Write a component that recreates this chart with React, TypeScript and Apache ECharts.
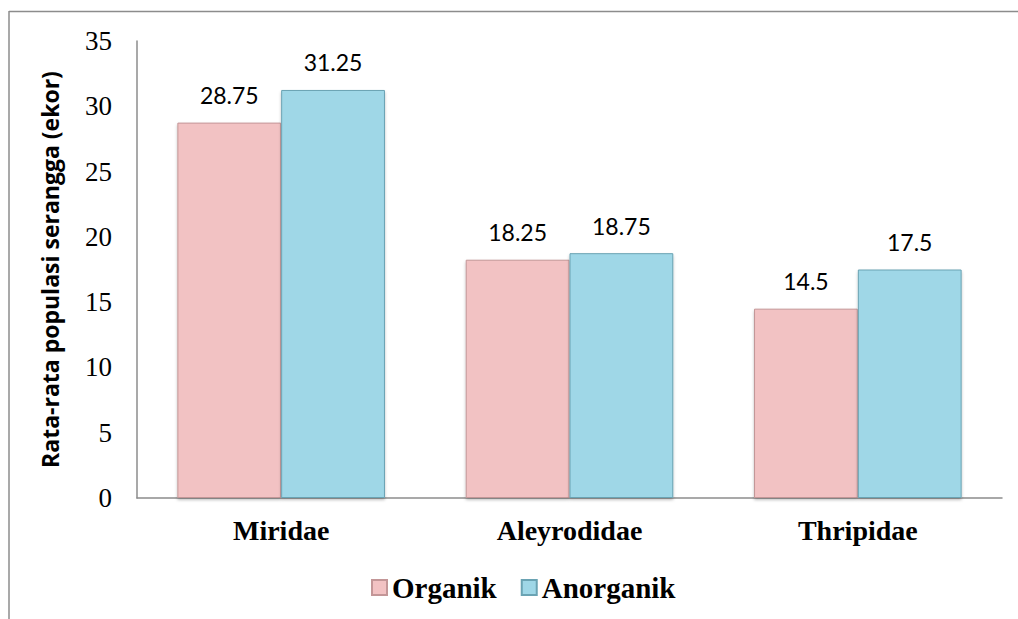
import React, { useEffect, useRef } from "react";
import * as echarts from "echarts";

const categories = ["Miridae", "Aleyrodidae", "Thripidae"];
const organik = [28.75, 18.25, 14.5];
const anorganik = [31.25, 18.75, 17.5];
const seriesNames = ["Organik", "Anorganik"];

export default function App() {
  const ref = useRef<HTMLDivElement>(null);
  useEffect(() => {
    if (!ref.current) return;
    const chart = echarts.init(ref.current, null, { renderer: "svg" });
    const mkItem = (fill: string, border: string) => ({
      color: fill,
      borderColor: border,
      borderWidth: 1,
      shadowColor: "rgba(0,0,0,0.25)",
      shadowBlur: 3,
      shadowOffsetY: 2,
    });
    const labelStyle = {
      show: true,
      position: "top",
      distance: 16,
      fontFamily: "Lato",
      fontSize: 23,
      color: "#000",
    };
    chart.setOption({
      animation: false,
      backgroundColor: "#fff",
      grid: { left: 137, top: 41, right: 16, bottom: 121, containLabel: false },
      graphic: [
        { type: "line", shape: { x1: 9, y1: 11.5, x2: 1018, y2: 11.5 }, style: { stroke: "#8c8c8c", lineWidth: 1.5 } },
        { type: "line", shape: { x1: 9, y1: 11, x2: 9, y2: 619 }, style: { stroke: "#8c8c8c", lineWidth: 1.5 } },
      ],
      legend: {
        left: 366,
        top: 568,
        itemWidth: 15,
        itemHeight: 15,
        itemGap: 24,
        icon: "rect",
        textStyle: { fontFamily: "Liberation Serif", fontWeight: "bold", fontSize: 29, color: "#000" },
        data: seriesNames,
      },
      xAxis: {
        type: "category",
        data: categories,
        axisLine: { lineStyle: { color: "#8c8c8c", width: 1.5 } },
        axisTick: { show: false },
        axisLabel: { fontFamily: "Liberation Serif", fontWeight: "bold", fontSize: 28, color: "#000", margin: 18 },
      },
      yAxis: {
        type: "value",
        min: 0,
        max: 35,
        interval: 5,
        name: "Rata-rata populasi serangga (ekor)",
        nameLocation: "middle",
        nameGap: 76,
        nameTextStyle: { fontFamily: "Open Sans", fontWeight: "bold", fontSize: 23, color: "#000" },
        axisLine: { show: true, lineStyle: { color: "#8c8c8c", width: 1.5 } },
        axisTick: { show: false },
        splitLine: { show: false },
        axisLabel: { fontFamily: "Liberation Serif", fontSize: 27, color: "#000", margin: 25 },
      },
      series: [
        {
          name: seriesNames[0],
          type: "bar",
          data: organik,
          barGap: "0%",
          barCategoryGap: "28%",
          itemStyle: mkItem("#f2c2c3", "#c39697"),
          label: labelStyle,
        },
        {
          name: seriesNames[1],
          type: "bar",
          data: anorganik,
          itemStyle: mkItem("#9fd7e7", "#6aa3b3"),
          label: labelStyle,
        },
      ],
    });
    return () => chart.dispose();
  }, []);
  return <div ref={ref} style={{ position: "fixed", left: 0, top: 0, width: 1018, height: 619 }} />;
}
